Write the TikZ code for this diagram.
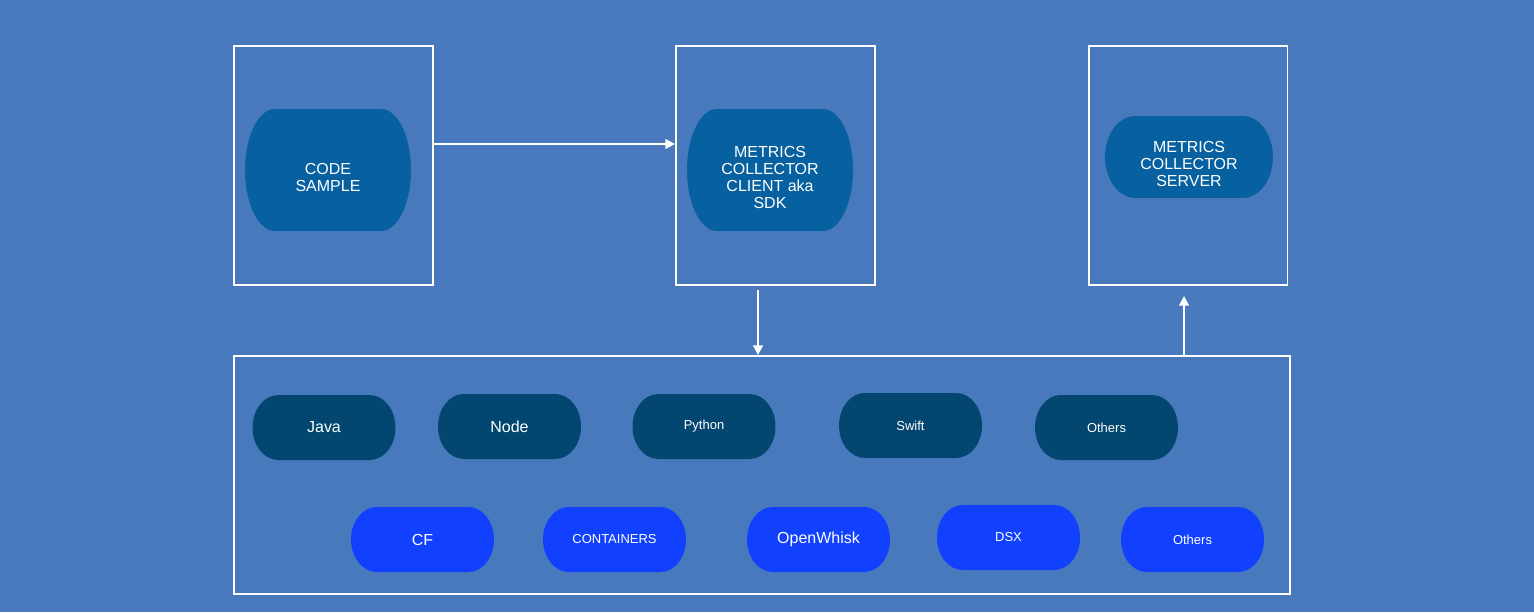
\documentclass[tikz,border=0pt]{standalone}
\usepackage{fontspec}
\setmainfont{Liberation Sans}
\usetikzlibrary{arrows.meta, calc}

\definecolor{bgblue}{RGB}{71,121,188}
\definecolor{sdkblue}{RGB}{7,97,160}
\definecolor{langnavy}{RGB}{3,70,112}
\definecolor{cloudblue}{RGB}{18,64,255}

% pushes the first line down a little, as in the drawing
\newcommand{\textdrop}{\rule{0pt}{14.6pt}}

\begin{document}
\begin{tikzpicture}[
    x=0.02cm, y=-0.02cm,
    frame/.style={rectangle, draw=white, line width=1.1pt, minimum width=3.98cm, minimum height=4.78cm},
    pill/.style={rectangle, text=white, align=center, minimum width=2.86cm, minimum height=1.3cm,
        path picture={
            \fill[#1] let \p1=(path picture bounding box.north west), \p2=(path picture bounding box.south east),
                \n1={(\y1-\y2)/2}, \n2={0.18*(\x2-\x1)} in
                (\x1+\n2,\y1) -- (\x2-\n2,\y1)
                arc[start angle=90, end angle=-90, x radius=\n2, y radius=\n1]
                -- (\x1+\n2,\y2)
                arc[start angle=270, end angle=90, x radius=\n2, y radius=\n1] -- cycle;}},
    bigtext/.style={font=\fontsize{9.1}{9.6}\selectfont},
    smalltext/.style={font=\fontsize{7.4}{8.8}\selectfont},
    arrow/.style={-{Triangle[length=5.5pt, width=5.5pt]}, draw=white, line width=1.1pt}
]
    \fill[bgblue] (0,0) rectangle (1534,612);

    % outer frames
    \node[frame] (codebox) at (333.5,165.5) {};
    \node[frame] (clientbox) at (775.5,165.5) {};
    \node[frame] (serverbox) at (1188,165.5) {};
    \node[frame, minimum width=21.12cm, minimum height=4.76cm] (platbox) at (762,475) {};

    % top components
    \node[pill=sdkblue, bigtext, minimum width=3.32cm, minimum height=2.44cm] (code) at (328,170) {\textdrop CODE\\SAMPLE};
    \node[pill=sdkblue, bigtext, minimum width=3.32cm, minimum height=2.44cm] (client) at (770,170) {\textdrop METRICS\\COLLECTOR\\CLIENT aka\\SDK};
    \node[pill=sdkblue, bigtext, minimum width=3.36cm, minimum height=1.64cm] (server) at (1189,157) {\textdrop METRICS\\COLLECTOR\\SERVER};

    % languages
    \node[pill=langnavy, bigtext] (java) at (324,427.5) {Java};
    \node[pill=langnavy, bigtext] (node) at (509.5,426.5) {Node};
    \node[pill=langnavy, smalltext] (python) at (704,426.5) {Python};
    \node[pill=langnavy, smalltext] (swift) at (910.5,425.5) {Swift};
    \node[pill=langnavy, smalltext] (otherlang) at (1106.5,427.5) {Others};

    % platforms
    \node[pill=cloudblue, bigtext] (cf) at (422.5,539.5) {CF};
    \node[pill=cloudblue, smalltext] (containers) at (614.5,539.5) {CONTAINERS};
    \node[pill=cloudblue, bigtext] (openwhisk) at (818.5,539.5) {OpenWhisk};
    \node[pill=cloudblue, smalltext] (dsx) at (1008.5,537.5) {DSX};
    \node[pill=cloudblue, smalltext] (otherplat) at (1192.5,539.5) {Others};

    \draw[arrow] (codebox.east |- 0,144) -- (clientbox.west |- 0,144);
    \draw[arrow, shorten <=2.3pt] (clientbox.south -| 758,0) -- (platbox.north -| 758,0);
    \draw[arrow, shorten >=5.7pt] (platbox.north -| 1184,0) -- (serverbox.south -| 1184,0);
\end{tikzpicture}
\end{document}
